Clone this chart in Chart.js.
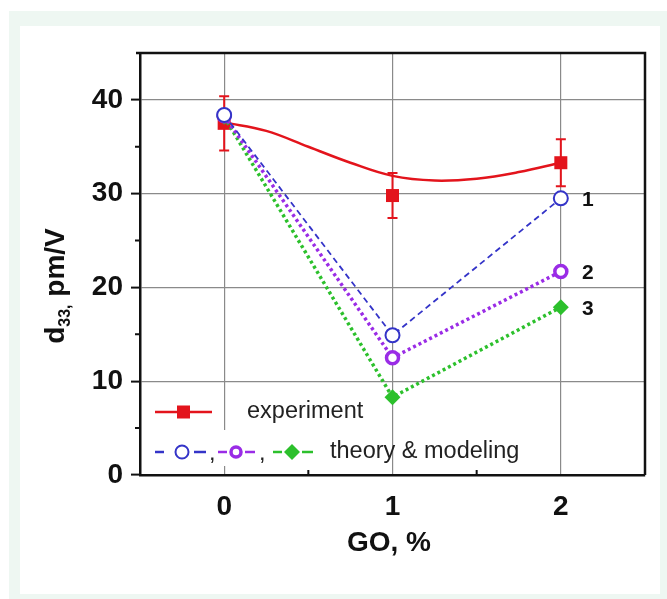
<!DOCTYPE html>
<html>
<head>
<meta charset="utf-8">
<script src="https://cdn.jsdelivr.net/npm/chart.js@4.4.0/dist/chart.umd.min.js"></script>
<style>
  html, body { margin: 0; padding: 0; background: #fff; }
  #wrap { position: relative; width: 667px; height: 599px; overflow: hidden; }
  #frame { position: absolute; left: 9px; top: 11px; width: 658px; height: 588px; background: #eef7f2; }
  #panel { position: absolute; left: 20px; top: 26px; width: 640px; height: 568px; background: #fff; }
  canvas { position: absolute; left: 0; top: 0; }
</style>
</head>
<body>
<div id="wrap">
  <div id="frame"></div>
  <div id="panel"></div>
  <canvas id="chart" width="667" height="599"></canvas>
</div>
<script>
// GO content, %
var goX = [0, 1, 2];
// measured d33 (pm/V) with error bars
var expValues = [37.5, 29.8, 33.3];
var expErrors = [2.9, 2.4, 2.5];
// smooth guide line through the experiment
var fitX = [0, 0.25, 0.5, 0.75, 1, 1.25, 1.5, 1.75, 2];
var fitValues = [37.6, 36.7, 35.0, 33.3, 31.9, 31.4, 31.6, 32.3, 33.3];
// theory & modeling curves 1, 2, 3
var theory1 = [38.4, 14.9, 29.5];
var theory2 = [38.3, 12.5, 21.7];
var theory3 = [38.2, 8.3, 17.9];
var curveLabels = ['1', '2', '3'];

var xTicks = [0, 1, 2];
var yTicks = [0, 10, 20, 30, 40];
var xMinorTicks = [0.5, 1.5];
var yMinorTicks = [5, 15, 25, 35];

var RED = '#e3141c';
var BLUE = '#3434c8';
var PURPLE = '#9a2ce6';
var GREEN = '#2cc02c';
var FONT = '"Liberation Sans", Arial, sans-serif';

function pairs(xs, ys) {
  return xs.map(function(x, i) { return {x: x, y: ys[i]}; });
}

function drawDiamond(ctx, x, y, r, color) {
  ctx.beginPath();
  ctx.moveTo(x - r, y); ctx.lineTo(x, y - r); ctx.lineTo(x + r, y); ctx.lineTo(x, y + r);
  ctx.closePath();
  ctx.fillStyle = color;
  ctx.fill();
}

function seg(ctx, x1, x2, y, color, width) {
  ctx.beginPath();
  ctx.moveTo(x1, y); ctx.lineTo(x2, y);
  ctx.strokeStyle = color; ctx.lineWidth = width;
  ctx.stroke();
}

var extras = {
  id: 'extras',
  beforeDatasetsDraw: function(chart) {
    var ctx = chart.ctx, xs = chart.scales.x, ys = chart.scales.y;
    ctx.save();
    ctx.strokeStyle = RED;
    ctx.lineWidth = 2;
    for (var i = 0; i < goX.length; i++) {
      var px = xs.getPixelForValue(goX[i]);
      var top = ys.getPixelForValue(expValues[i] + expErrors[i]);
      var bot = ys.getPixelForValue(expValues[i] - expErrors[i]);
      ctx.beginPath();
      ctx.moveTo(px, top); ctx.lineTo(px, bot);
      ctx.moveTo(px - 5, top); ctx.lineTo(px + 5, top);
      ctx.moveTo(px - 5, bot); ctx.lineTo(px + 5, bot);
      ctx.stroke();
    }
    ctx.restore();
  },
  afterDraw: function(chart) {
    var ctx = chart.ctx, a = chart.chartArea, xs = chart.scales.x, ys = chart.scales.y;
    ctx.save();
    // top and right frame
    ctx.strokeStyle = '#111';
    ctx.lineWidth = 2.5;
    ctx.beginPath();
    ctx.moveTo(a.left - 4, a.top); ctx.lineTo(a.right, a.top); ctx.lineTo(a.right, a.bottom);
    ctx.stroke();
    // minor ticks
    ctx.lineWidth = 2;
    ctx.beginPath();
    yMinorTicks.forEach(function(v) {
      var py = ys.getPixelForValue(v);
      ctx.moveTo(a.left - 5, py); ctx.lineTo(a.left, py);
    });
    xMinorTicks.forEach(function(v) {
      var px = xs.getPixelForValue(v);
      ctx.moveTo(px, a.bottom); ctx.lineTo(px, a.bottom - 5);
    });
    ctx.stroke();

    // curve numbers
    ctx.fillStyle = '#111';
    ctx.font = 'bold 21px ' + FONT;
    ctx.textAlign = 'center';
    ctx.textBaseline = 'middle';
    [theory1, theory2, theory3].forEach(function(s, i) {
      var last = s.length - 1;
      ctx.fillText(curveLabels[i], xs.getPixelForValue(goX[last]) + 27, ys.getPixelForValue(s[last]) + 2);
    });

    // legend
    ctx.fillStyle = '#fff';
    ctx.fillRect(150, 430, 172, 36);
    var r1 = 412, r2 = 452;
    seg(ctx, 155, 212, r1, RED, 2.5);
    ctx.fillStyle = RED;
    ctx.fillRect(177, r1 - 6.5, 13, 13);

    seg(ctx, 155, 164, r2, BLUE, 2.5);
    seg(ctx, 194, 206, r2, BLUE, 2.5);
    ctx.beginPath(); ctx.arc(182, r2, 6.5, 0, Math.PI * 2);
    ctx.fillStyle = '#fff'; ctx.fill();
    ctx.strokeStyle = BLUE; ctx.lineWidth = 2; ctx.stroke();

    seg(ctx, 218, 227, r2, PURPLE, 2.5);
    seg(ctx, 245, 255, r2, PURPLE, 2.5);
    ctx.beginPath(); ctx.arc(236, r2, 5, 0, Math.PI * 2);
    ctx.fillStyle = '#fff'; ctx.fill();
    ctx.strokeStyle = PURPLE; ctx.lineWidth = 3.5; ctx.stroke();

    seg(ctx, 273, 282, r2, GREEN, 2.5);
    seg(ctx, 302, 313, r2, GREEN, 2.5);
    drawDiamond(ctx, 292, r2, 8, GREEN);

    ctx.fillStyle = '#222';
    ctx.font = '23.5px ' + FONT;
    ctx.textAlign = 'left';
    ctx.textBaseline = 'middle';
    ctx.fillText(',', 209, r2 + 2);
    ctx.fillText(',', 259, r2 + 2);
    ctx.fillText('experiment', 247, r1);
    ctx.fillText('theory & modeling', 330, r2);

    // axis titles
    ctx.fillStyle = '#111';
    ctx.font = 'bold 28px ' + FONT;
    ctx.textAlign = 'center';
    ctx.fillText('GO, %', 389, 543);

    ctx.translate(64, 286);
    ctx.rotate(-Math.PI / 2);
    ctx.textAlign = 'left';
    ctx.textBaseline = 'alphabetic';
    var big = 'bold 28px ' + FONT, small = 'bold 16px ' + FONT;
    ctx.font = big; var wd = ctx.measureText('d').width; var wr = ctx.measureText(' pm/V').width;
    ctx.font = small; var ws = ctx.measureText('33,').width;
    var x0 = -(wd + ws + wr) / 2;
    ctx.font = big; ctx.fillText('d', x0, 0);
    ctx.font = small; ctx.fillText('33,', x0 + wd, 6);
    ctx.font = big; ctx.fillText(' pm/V', x0 + wd + ws, 0);
    ctx.restore();
  }
};

new Chart(document.getElementById('chart'), {
  type: 'line',
  data: {
    datasets: [
      {
        label: 'experiment', data: pairs(goX, expValues), showLine: false,
        pointStyle: 'rect', pointRadius: 9.2, pointBorderWidth: 0,
        pointBackgroundColor: RED, pointBorderColor: RED, order: 5
      },
      {
        label: 'fit', data: pairs(fitX, fitValues), borderColor: RED, borderWidth: 2.5,
        tension: 0.4, pointRadius: 0, order: 6
      },
      {
        label: '3', data: pairs(goX, theory3), borderColor: GREEN, borderWidth: 3.5,
        borderDash: [3, 3], pointStyle: 'rectRot', pointRadius: 8, pointBorderWidth: 0,
        pointBackgroundColor: GREEN, pointBorderColor: GREEN, order: 3
      },
      {
        label: '2', data: pairs(goX, theory2), borderColor: PURPLE, borderWidth: 3.5,
        borderDash: [3, 3], pointStyle: 'circle', pointRadius: 6, pointBorderWidth: 3.5,
        pointBackgroundColor: '#fff', pointBorderColor: PURPLE, order: 2
      },
      {
        label: '1', data: pairs(goX, theory1), borderColor: BLUE, borderWidth: 1.8,
        borderDash: [6, 4], pointStyle: 'circle', pointRadius: 7, pointBorderWidth: 2,
        pointBackgroundColor: '#fff', pointBorderColor: BLUE, order: 1
      }
    ]
  },
  options: {
    responsive: false,
    animation: false,
    layout: { padding: { top: 53, right: 22, left: 0, bottom: 0 } },
    plugins: { legend: { display: false }, tooltip: { enabled: false } },
    scales: {
      x: {
        type: 'linear', min: -0.5, max: 2.5,
        afterBuildTicks: function(s) { s.ticks = xTicks.map(function(v) { return {value: v}; }); },
        afterFit: function(s) { s.height = 124; },
        grid: { color: '#8a8a8a', lineWidth: 1.2, drawTicks: false },
        border: { display: true, color: '#111', width: 2.5 },
        ticks: { color: '#111', padding: 15, font: { family: FONT, size: 28, weight: 'bold' } }
      },
      y: {
        min: 0, max: 45,
        afterBuildTicks: function(s) { s.ticks = yTicks.map(function(v) { return {value: v}; }); },
        afterFit: function(s) { s.width = 140; },
        grid: { color: '#8a8a8a', lineWidth: 1.2, tickLength: 9, tickColor: '#111', tickWidth: 2 },
        border: { display: true, color: '#111', width: 2.5 },
        ticks: { color: '#111', padding: 8, font: { family: FONT, size: 28, weight: 'bold' } }
      }
    }
  },
  plugins: [extras]
});
</script>
</body>
</html>
